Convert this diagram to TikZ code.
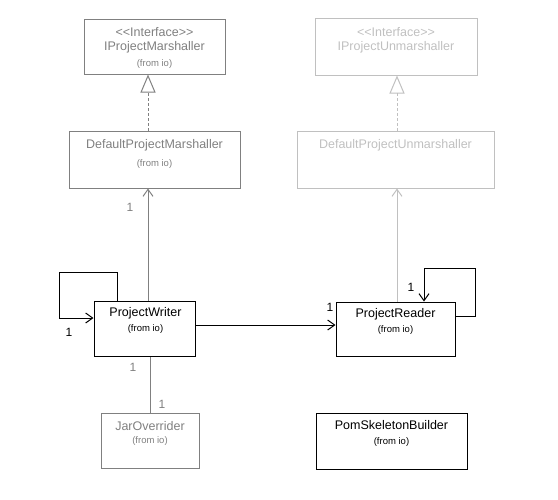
\documentclass[tikz,border=0pt]{standalone}
\usepackage{fontspec}
\setmainfont{Liberation Sans}
\usetikzlibrary{arrows.meta}
\definecolor{midgray}{HTML}{808080}
\definecolor{lightgray}{HTML}{C0C0C0}
\newcommand{\stereo}[1]{<\kern0pt<#1>\kern0pt>}
\tikzset{
  umlbox/.style={draw, line width=1pt, rectangle, inner sep=0pt},
  clsname/.style={font=\fontsize{12.5}{14}\selectfont, inner sep=0pt},
  clssmall/.style={font=\fontsize{9.5}{11}\selectfont, inner sep=0pt},
  multlabel/.style={font=\fontsize{12}{14}\selectfont, inner sep=0pt},
  assoc/.style={line width=1pt, -{Straight Barb[length=7pt,width=10pt,line width=1pt]}},
  realiz/.style={line width=1pt, dash pattern=on 3pt off 2pt, -{Triangle[open,length=18pt,width=15pt,line width=1pt]}},
}
\begin{document}
\begin{tikzpicture}[x=1pt,y=-1pt]
\useasboundingbox (0,0) rectangle (558,499);
% boxes
\node[umlbox, midgray, minimum width=141pt, minimum height=55pt] (ipm) at (154.5,46.5) {};
\node[umlbox, midgray, minimum width=171pt, minimum height=57pt] (dpm) at (154.5,159.5) {};
\node[umlbox, lightgray, minimum width=162pt, minimum height=57pt] (ipu) at (396,46.5) {};
\node[umlbox, lightgray, minimum width=197pt, minimum height=57pt] (dpu) at (395.5,159.5) {};
\node[umlbox, minimum width=101pt, minimum height=55pt] (pw) at (144.5,328.5) {};
\node[umlbox, minimum width=119pt, minimum height=54pt] (pr) at (395.5,329) {};
\node[umlbox, midgray, minimum width=98pt, minimum height=55pt] (jar) at (150,440.5) {};
\node[umlbox, minimum width=151pt, minimum height=56pt] (psb) at (391.5,441) {};
% texts
\node[clsname, midgray] (ipmS) at (154.5,32) {\stereo{Interface}};
\node[clsname, midgray] (ipmN) at (154.5,47) {IProjectMarshaller};
\node[clssmall, midgray] (ipmF) at (154.5,64) {(from io)};
\node[clsname, midgray] (dpmN) at (154.5,145) {DefaultProjectMarshaller};
\node[clssmall, midgray] (dpmF) at (154.5,164) {(from io)};
\node[clsname, lightgray] (ipuS) at (396,32) {\stereo{Interface}};
\node[clsname, lightgray] (ipuN) at (396,47) {IProjectUnmarshaller};
\node[clsname, lightgray] (dpuN) at (395.5,145) {DefaultProjectUnmarshaller};
\node[clsname] (pwN) at (145.5,313) {ProjectWriter};
\node[clssmall] (pwF) at (145.5,329) {(from io)};
\node[clsname] (prN) at (395.5,314) {ProjectReader};
\node[clssmall] (prF) at (395.5,330) {(from io)};
\node[clsname, midgray] (jarN) at (150,426) {JarOverrider};
\node[clssmall, midgray] (jarF) at (150,441) {(from io)};
\node[clsname] (psbN) at (391.5,425) {PomSkeletonBuilder};
\node[clssmall] (psbF) at (391.5,442) {(from io)};
% realizations
\draw[realiz, midgray] ([xshift=-6.5pt]dpm.north) -- ([xshift=-6.5pt]ipm.south);
\draw[realiz, lightgray] ([xshift=1.5pt]dpu.north) -- ([xshift=1.5pt]dpu.north |- ipu.south);
% associations
\draw[assoc, midgray] ([xshift=3.5pt]pw.north) -- ([xshift=3.5pt]pw.north |- dpm.south);
\draw[assoc, lightgray] ([xshift=1.5pt]pr.north) -- ([xshift=1.5pt]pr.north |- dpu.south);
\draw[assoc] ([yshift=3.5pt]pw.east) -- ([yshift=3.5pt]pw.east -| pr.west);
\draw[assoc] ([xshift=-27.5pt]pw.north) |- (59,272) |- ([yshift=10.5pt]pw.west);
\draw[assoc] ([yshift=13pt]pr.east) -| (475,268) -| ([xshift=28.5pt]pr.north);
\draw[line width=1pt, midgray] (jar.north) -- (jar.north |- pw.south);
% multiplicities
\node[multlabel, midgray] (m1) at (130,207) {1};
\node[multlabel] (m2) at (69,332) {1};
\node[multlabel] (m3) at (330,307) {1};
\node[multlabel] (m4) at (411,287) {1};
\node[multlabel, midgray] (m5) at (133,367) {1};
\node[multlabel, midgray] (m6) at (162,404) {1};
\end{tikzpicture}
\end{document}
